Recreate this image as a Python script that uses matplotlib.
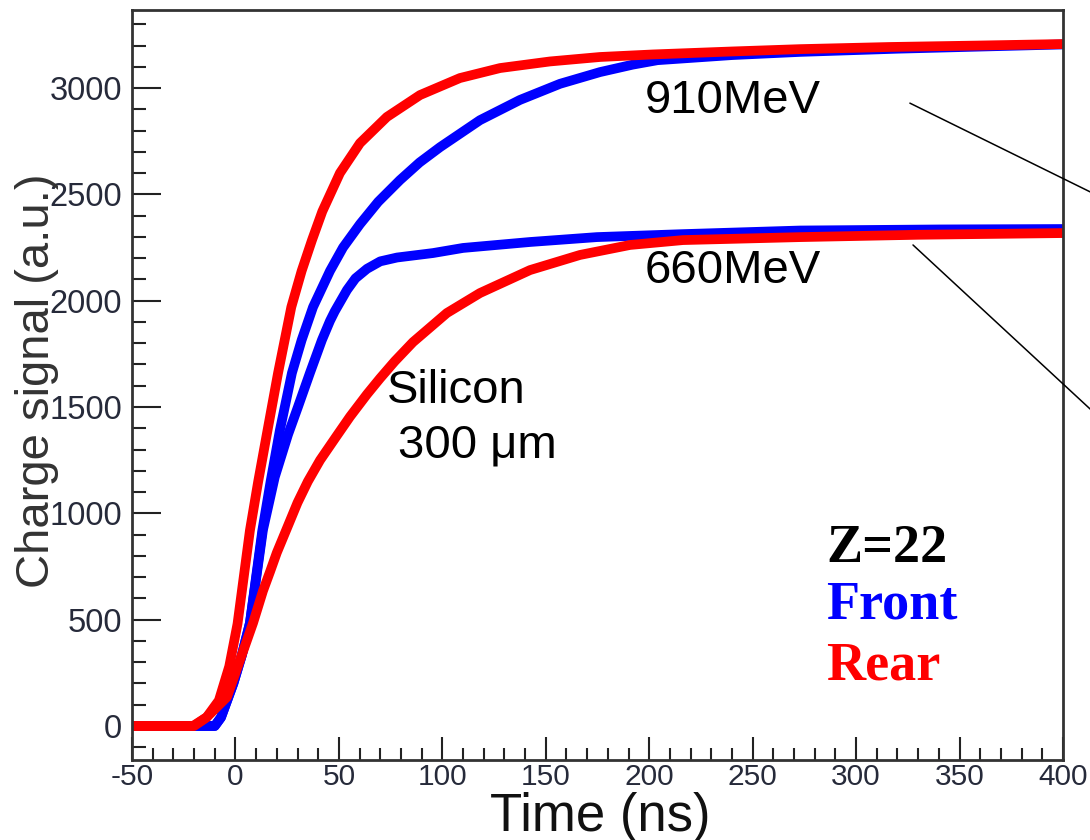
import matplotlib
matplotlib.use("Agg")
import matplotlib.pyplot as plt
from matplotlib.ticker import MultipleLocator

plt.rcParams["axes.unicode_minus"] = False

# charge signal vs time
t_rear_910 = [-50, -20, -14, -8, -3, 1, 4, 7, 11, 15.5, 20.6, 27, 32, 37, 42, 50.5, 60.2,
              73.2, 89.2, 108.5, 127.9, 152, 176.2, 201.8, 240, 273, 316, 360, 400]
q_rear_910 = [0, 0, 40, 120, 280, 480, 700, 920, 1150, 1390, 1660, 1970, 2140, 2285, 2420,
              2600, 2741, 2864, 2967, 3047, 3094, 3125, 3146, 3158, 3172, 3183, 3193, 3200,
              3207]

t_front_910 = [-50, -10, -7, -1, 3, 7, 13, 17, 21.5, 27.3, 32, 37.5, 45.7, 52, 60.2, 69,
               79.5, 89, 98.9, 118.2, 137.5, 156.9, 176.2, 192, 204, 240, 273, 320, 360, 400]
q_front_910 = [0, 0, 40, 200, 330, 484, 920, 1150, 1392, 1660, 1815, 1970, 2140, 2250, 2360,
               2465, 2567, 2650, 2722, 2849, 2944, 3020, 3075, 3110, 3131, 3155, 3170, 3185,
               3195, 3205]

t_front_660 = [-50, -10, -7, -1, 3, 7, 13.3, 19, 25.4, 30.2, 36, 41.8, 45.7, 48, 53.9, 58,
               63.6, 70, 78.1, 95.5, 110, 142.4, 174.7, 216.3, 273, 340, 400]
q_front_660 = [0, 0, 40, 200, 330, 484, 922, 1170, 1370, 1500, 1660, 1815, 1905, 1950, 2050,
               2105, 2150, 2185, 2203, 2224, 2248, 2276, 2299, 2313, 2330, 2335, 2337]

t_rear_660 = [-50, -20.5, -13.8, -4.1, 2.2, 8.5, 13.3, 16.7, 20, 24.9, 30, 35, 40.9, 49,
              55.4, 63.6, 69.9, 77, 85.8, 102.2, 118.2, 142.4, 166.5, 190.7, 216.3, 273, 330,
              400]
q_rear_660 = [0, 0, 42, 136, 310, 484, 635, 725, 815, 930, 1050, 1150, 1250, 1365, 1455,
              1560, 1635, 1715, 1805, 1942, 2036, 2144, 2215, 2262, 2285, 2299, 2310, 2318]

SANS = "Liberation Sans"
SERIF = "Liberation Serif"

fig = plt.figure(figsize=(10.9, 8.4), dpi=100)
ax = fig.add_axes([132 / 1090, 80 / 840, 931 / 1090, 750 / 840])

lw = 7
ax.plot(t_front_910, q_front_910, color="#0000ff", lw=lw, solid_joinstyle="round")
ax.plot(t_front_660, q_front_660, color="#0000ff", lw=lw, solid_joinstyle="round")
ax.plot(t_rear_910, q_rear_910, color="#ff0000", lw=lw, solid_joinstyle="round")
ax.plot(t_rear_660, q_rear_660, color="#ff0000", lw=lw, solid_joinstyle="round")

ax.set_xlim(-50, 400)
ax.set_ylim(-160, 3367)

ax.xaxis.set_major_locator(MultipleLocator(50))
ax.xaxis.set_minor_locator(MultipleLocator(10))
ax.yaxis.set_major_locator(MultipleLocator(500))
ax.yaxis.set_minor_locator(MultipleLocator(100))

ax.tick_params(axis="both", which="both", direction="in", top=False, right=False,
               width=1.5, color="#222222")
ax.tick_params(axis="x", which="major", length=16.5, pad=2.5, labelsize=21.5)
ax.tick_params(axis="x", which="minor", length=8.6)
ax.tick_params(axis="y", which="major", length=21, pad=7, labelsize=23.5)
ax.tick_params(axis="y", which="minor", length=10)
for lab in ax.get_xticklabels() + ax.get_yticklabels():
    lab.set_fontfamily(SANS)
    lab.set_color("#262a3a")

for sp in ax.spines.values():
    sp.set_linewidth(2)
    sp.set_color("#333333")

fig.text(600 / 1090, 1 - 831 / 840, "Time (ns)", fontsize=38, family=SANS,
         ha="center", va="baseline", color="#111111")
# the reference has this label running over the tick numbers
fig.text(37 / 1090, 1 - 381 / 840, "Charge signal (a.u.)", fontsize=34, family=SANS,
         rotation=90, ha="center", va="center", color="#333333")

ax.text(198, 2882, "910MeV", fontsize=34, family=SANS, va="baseline")
ax.text(198, 2083, "660MeV", fontsize=34, family=SANS, va="baseline")
ax.text(73, 1519, "Silicon", fontsize=34, family=SANS, va="baseline")
ax.text(78.6, 1262, "300 μm", fontsize=34, family=SANS, va="baseline")

ax.text(0.746, 0.264, "Z=22", fontsize=39, family=SERIF, weight="bold",
        color="black", transform=ax.transAxes, va="baseline")
ax.text(0.746, 0.189, "Front", fontsize=39, family=SERIF, weight="bold",
        color="#0000ff", transform=ax.transAxes, va="baseline")
ax.text(0.746, 0.107, "Rear", fontsize=39, family=SERIF, weight="bold",
        color="#ff0000", transform=ax.transAxes, va="baseline")

# pointer lines running off to the right edge
ax.annotate("", xy=(1.03, 0.757), xytext=(326, 2929), xycoords="axes fraction",
            textcoords="data", annotation_clip=False,
            arrowprops=dict(arrowstyle="-", color="black", lw=1.1, shrinkA=0, shrinkB=0))
ax.annotate("", xy=(1.03, 0.467), xytext=(327.5, 2262), xycoords="axes fraction",
            textcoords="data", annotation_clip=False,
            arrowprops=dict(arrowstyle="-", color="black", lw=1.1, shrinkA=0, shrinkB=0))

fig.savefig("out.png", dpi=100)
